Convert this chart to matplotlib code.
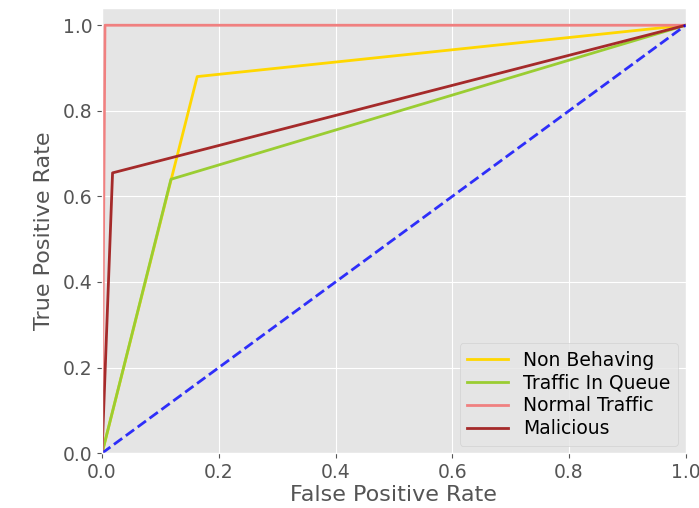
import matplotlib
matplotlib.use("Agg")
import matplotlib.pyplot as plt

plt.style.use("ggplot")

labels = ["Non Behaving", "Traffic In Queue", "Normal Traffic", "Malicious"]
colors = ["gold", "yellowgreen", "lightcoral", "brown"]

# fpr / tpr points per class
fpr_non_behaving = [0.0, 0.163, 1.0]
tpr_non_behaving = [0.0, 0.88, 1.0]
fpr_queue = [0.0, 0.118, 1.0]
tpr_queue = [0.0, 0.64, 1.0]
fpr_normal = [0.0, 0.005, 1.0]
tpr_normal = [0.0, 1.0, 1.0]
fpr_malicious = [0.0, 0.018, 1.0]
tpr_malicious = [0.0, 0.655, 1.0]

fprs = [fpr_non_behaving, fpr_queue, fpr_normal, fpr_malicious]
tprs = [tpr_non_behaving, tpr_queue, tpr_normal, tpr_malicious]

fig = plt.figure(figsize=(6.99, 5.08), dpi=100)
ax = fig.add_axes([0.146, 0.108, 0.835, 0.876])

for fpr, tpr, label, color in zip(fprs, tprs, labels, colors):
    ax.plot(fpr, tpr, color=color, lw=2, label=label)

ax.plot([0, 1], [0, 1], color="blue", lw=2, linestyle="--", alpha=0.8)

ax.set_xlim(0.0, 1.0)
ax.set_ylim(0.0, 1.04)
ax.set_xticks([0.0, 0.2, 0.4, 0.6, 0.8, 1.0])
ax.set_yticks([0.0, 0.2, 0.4, 0.6, 0.8, 1.0])
ax.tick_params(labelsize=13.5, colors="#555555")
ax.set_xlabel("False Positive Rate", fontsize=16, color="#555555", labelpad=2)
ax.set_ylabel("True Positive Rate", fontsize=16, color="#555555", labelpad=6)
ax.legend(loc="lower right", fontsize=13.5, labelspacing=0.2,
          borderaxespad=0.4, handlelength=2.2)

fig.savefig("out.png", dpi=100)
